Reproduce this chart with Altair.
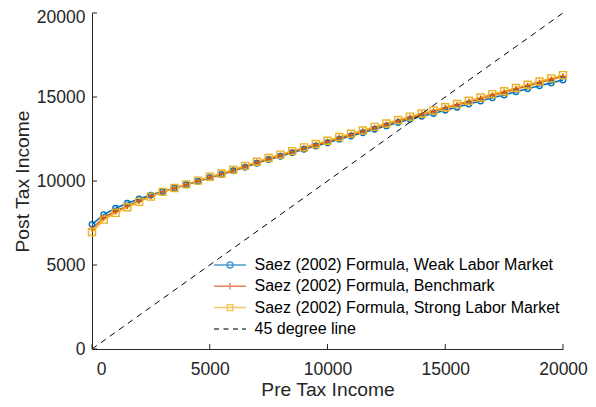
import altair as alt
import pandas as pd

pre_tax = [0, 500, 1000, 1500, 2000, 2500, 3000, 3500, 4000, 4500,
           5000, 5500, 6000, 6500, 7000, 7500, 8000, 8500, 9000, 9500,
           10000, 10500, 11000, 11500, 12000, 12500, 13000, 13500, 14000, 14500,
           15000, 15500, 16000, 16500, 17000, 17500, 18000, 18500, 19000, 19500, 20000]

weak = [7420, 8000, 8380, 8680, 8930, 9160, 9370, 9580, 9780, 9990,
        10200, 10390, 10610, 10820, 11060, 11280, 11470, 11680, 11890, 12090,
        12280, 12490, 12680, 12870, 13080, 13280, 13480, 13670, 13850, 14020,
        14210, 14390, 14580, 14760, 14950, 15120, 15310, 15490, 15670, 15840, 16010]

bench = [7160, 7830, 8200, 8520, 8810, 9090, 9350, 9570, 9780, 9990,
         10210, 10410, 10630, 10850, 11090, 11310, 11510, 11720, 11940, 12140,
         12340, 12560, 12750, 12950, 13160, 13360, 13570, 13770, 13960, 14140,
         14330, 14520, 14710, 14900, 15100, 15270, 15470, 15660, 15850, 16040, 16230]

strong = [6960, 7700, 8100, 8440, 8760, 9070, 9350, 9580, 9800, 10020,
          10250, 10450, 10680, 10900, 11150, 11370, 11570, 11780, 12000, 12200,
          12400, 12620, 12810, 13010, 13220, 13420, 13630, 13830, 14020, 14200,
          14390, 14580, 14780, 14970, 15170, 15340, 15540, 15730, 15920, 16110, 16300]

series_names = ["Saez (2002) Formula, Weak Labor Market",
                "Saez (2002) Formula, Benchmark",
                "Saez (2002) Formula, Strong Labor Market"]
line45_label = "45 degree line"
line45_x = [0, 20000]
line45_y = [0, 20000]
tick_values = [0, 5000, 10000, 15000, 20000]
colors = ["#0072BD", "#D95319", "#EDB120"]

rows = []
for name, vals in zip(series_names, [weak, bench, strong]):
    for xv, yv in zip(pre_tax, vals):
        rows.append({"x": xv, "y": yv, "series": name})
df = pd.DataFrame(rows)
df45 = pd.DataFrame({"x": line45_x, "y": line45_y})
dfxt = pd.DataFrame({"x": tick_values})
dfyt = pd.DataFrame({"y": tick_values})

W, H = 471, 336
FONT = "Liberation Sans"
TXT = "#262626"

xscale = alt.Scale(domain=[0, 20000], nice=False, zero=False)
yscale = alt.Scale(domain=[0, 20000], nice=False, zero=False)

axis_common = dict(ticks=False, grid=False, domainColor=TXT, domainWidth=1,
                   labelColor=TXT, labelFont=FONT, labelFontSize=17.5,
                   titleFont=FONT, titleFontSize=19.25, titleFontWeight="normal",
                   titleColor=TXT, values=tick_values, format="d", labelFlush=False)

x_enc = alt.X("x:Q", scale=xscale,
              axis=alt.Axis(title="Pre Tax Income", labelPadding=11, titlePadding=3,
                            labelOffset={"condition": {"test": "datum.value === 0", "value": 9},
                                         "value": 0},
                            **axis_common))
y_enc = alt.Y("y:Q", scale=yscale,
              axis=alt.Axis(title="Post Tax Income", labelPadding=7, titlePadding=4,
                            labelOffset={"condition": {"test": "datum.value === 20000", "value": 4},
                                         "value": 0},
                            **axis_common))

color_scale = alt.Scale(domain=series_names, range=colors)

lines = alt.Chart(df).mark_line(strokeWidth=1.6).encode(
    x=x_enc, y=y_enc,
    color=alt.Color("series:N", scale=color_scale, legend=None),
    order=alt.Order("x:Q"),
)

points = alt.Chart(df).mark_point(filled=False, strokeWidth=1.4, opacity=1).encode(
    x=x_enc, y=y_enc,
    color=alt.Color("series:N", scale=color_scale, legend=None),
    shape=alt.Shape("series:N", scale=alt.Scale(domain=series_names,
                    range=["circle", "M-1,0H1M0,-1V1", "square"]), legend=None),
    size=alt.Size("series:N", scale=alt.Scale(domain=series_names, range=[30, 49, 36]), legend=None),
)

diag = alt.Chart(df45).mark_line(color="black", strokeWidth=1, strokeDash=[6, 5]).encode(
    x=x_enc, y=y_enc
)

xticks = alt.Chart(dfxt).mark_rule(color=TXT, strokeWidth=1).encode(
    x=x_enc, y=alt.value(H), y2=alt.value(H - 5)
)
yticks = alt.Chart(dfyt).mark_rule(color=TXT, strokeWidth=1).encode(
    y=y_enc, x=alt.value(0), x2=alt.value(5)
)

legend_labels = series_names + [line45_label]
legend_colors = colors + ["black"]
legend_paths = [
    "M-8,0H8M-1.5,0A1.5,1.5 0 1,0 1.5,0A1.5,1.5 0 1,0 -1.5,0",
    "M-8,0H8M0,-1.6V1.6",
    "M-8,0H8M-1.4,-1.4H1.4V1.4H-1.4Z",
    "M-8,0H-5.5M-3.25,0H-0.75M1.5,0H4M6,0H8",
]

legend_layer = alt.Chart(df).mark_point(filled=False).encode(
    x=x_enc, y=y_enc,
    color=alt.Color("lab:N", scale=alt.Scale(domain=legend_labels, range=legend_colors),
                    legend=alt.Legend(title=None, orient="none", legendX=130, legendY=244,
                                      symbolSize=16, symbolStrokeWidth=1.5,
                                      labelFont=FONT, labelFontSize=16, labelColor="#000",
                                      labelOffset=16.5, rowPadding=5.3, padding=0,
                                      labelLimit=400)),
    shape=alt.Shape("lab:N", scale=alt.Scale(domain=legend_labels, range=legend_paths)),
).transform_calculate(lab="datum.series").transform_filter("false")

chart = alt.layer(lines, points, diag, xticks, yticks, legend_layer).resolve_scale(
    color="independent", shape="independent", size="independent"
).properties(
    width=W, height=H,
    padding={"left": 84, "top": 5, "right": 25, "bottom": 50},
    autosize=alt.AutoSizeParams(type="none"),
    background="white",
).configure_view(stroke=None)

chart.save("out.html", embed_options={"renderer": "svg", "actions": False})
